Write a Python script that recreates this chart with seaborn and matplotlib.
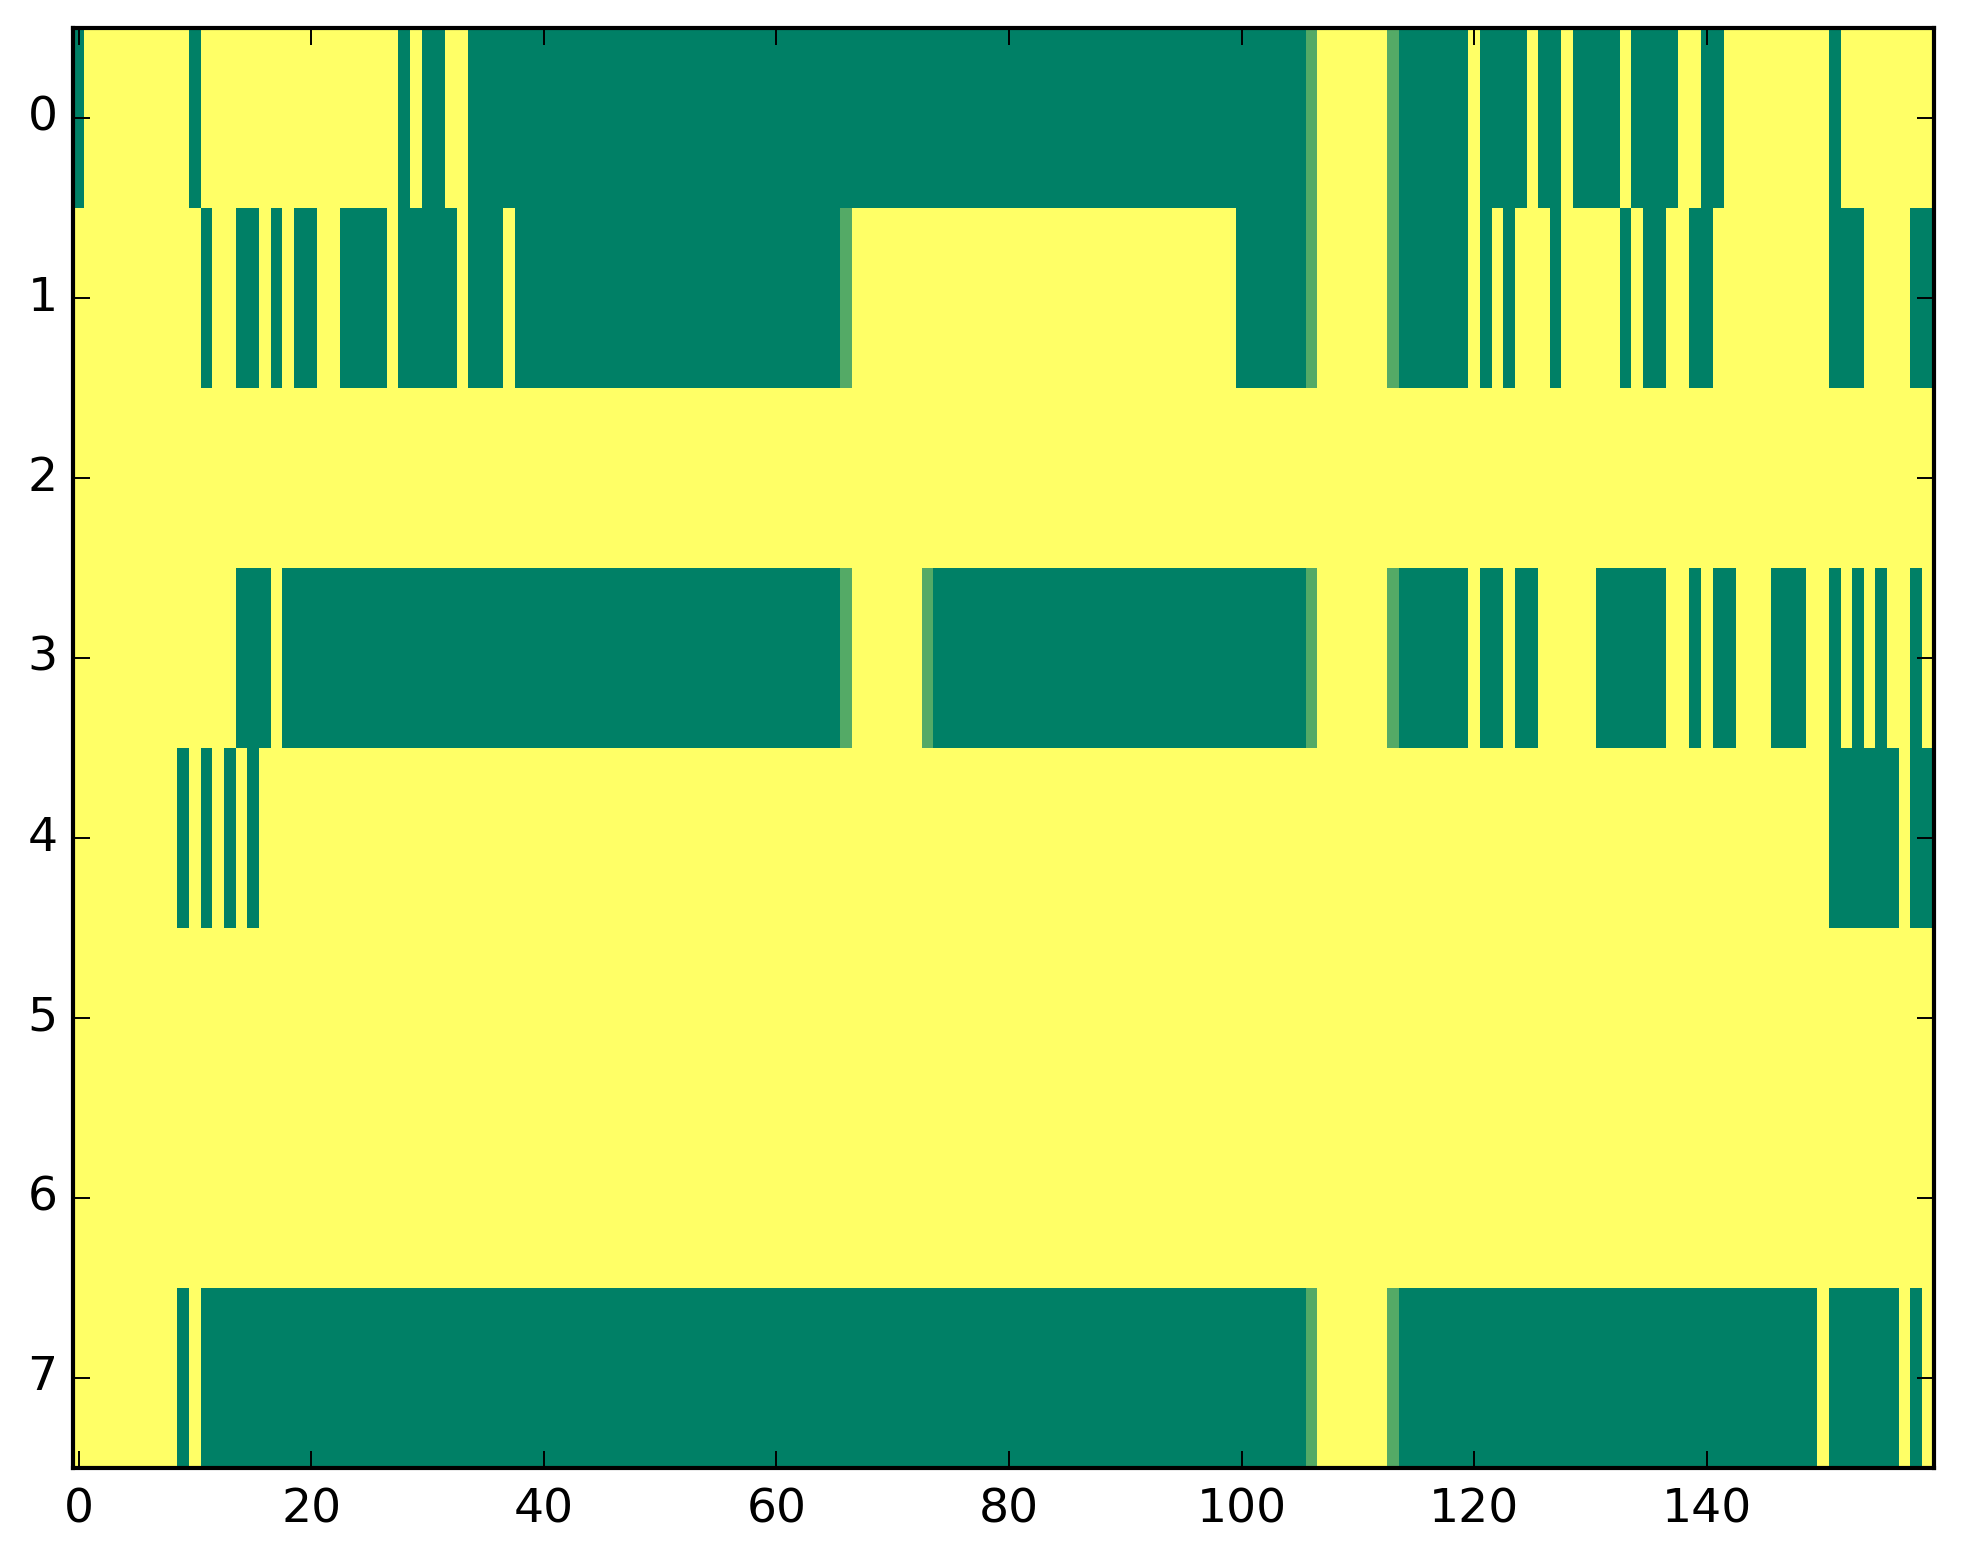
import numpy as np
import pandas as pd
import matplotlib
matplotlib.use("Agg")
import matplotlib.pyplot as plt
import seaborn as sns

n_cols = 160
row_labels = [0, 1, 2, 3, 4, 5, 6, 7]
x_tick_values = [0, 20, 40, 60, 80, 100, 120, 140]

# green (value 0) runs per row, inclusive column ranges; everything else is 1 (yellow)
green_row0 = [(0, 0), (10, 10), (28, 28), (30, 31), (34, 105), (114, 119), (121, 124),
              (126, 127), (129, 132), (134, 137), (140, 141), (151, 151)]
green_row1 = [(11, 11), (14, 15), (17, 17), (19, 20), (23, 26), (28, 32), (34, 36),
              (38, 65), (100, 105), (114, 119), (121, 121), (123, 123), (127, 127),
              (133, 133), (135, 136), (139, 140), (151, 153), (158, 159)]
green_row2 = []
green_row3 = [(14, 16), (18, 65), (74, 105), (114, 119), (121, 122), (124, 125),
              (131, 136), (139, 139), (141, 142), (146, 148), (151, 151), (153, 153),
              (155, 155), (158, 158)]
green_row4 = [(9, 9), (11, 11), (13, 13), (15, 15), (151, 156), (158, 159)]
green_row5 = []
green_row6 = []
green_row7 = [(9, 9), (11, 105), (114, 149), (151, 156), (158, 158)]

# lighter-green cells (intermediate value) as seen in the picture
mid_row0 = [106, 113]
mid_row1 = [66, 106, 113]
mid_row2 = []
mid_row3 = [66, 73, 106, 113]
mid_row4 = []
mid_row5 = []
mid_row6 = []
mid_row7 = [106, 113]
mid_value = 0.33

greens = [green_row0, green_row1, green_row2, green_row3,
          green_row4, green_row5, green_row6, green_row7]
mids = [mid_row0, mid_row1, mid_row2, mid_row3,
        mid_row4, mid_row5, mid_row6, mid_row7]

mat = np.ones((len(row_labels), n_cols))
for r, (runs, ms) in enumerate(zip(greens, mids)):
    for a, b in runs:
        mat[r, a:b + 1] = 0.0
    for c in ms:
        mat[r, c] = mid_value
df = pd.DataFrame(mat, index=row_labels, columns=range(n_cols))

sns.set_style("white")
plt.rcParams['font.family'] = ['DejaVu Sans']

fig = plt.figure(figsize=(9.815, 7.82), dpi=200)
ax = fig.add_axes([0.0371, 0.0614, 0.985 - 0.0371, 0.982 - 0.0614])
sns.heatmap(df, cmap="summer", vmin=0, vmax=1, cbar=False, ax=ax,
            xticklabels=False, yticklabels=False, linewidths=0, rasterized=True)

ax.set_axisbelow(False)
ax.set_xticks(np.array(x_tick_values) + 0.5)
ax.set_xticklabels([str(v) for v in x_tick_values], rotation=0)
ax.set_yticks(np.array(row_labels) + 0.5)
ax.set_yticklabels([str(v) for v in row_labels], rotation=0, va="center")
ax.set_xlabel("")
ax.set_ylabel("")

for s in ax.spines.values():
    s.set_visible(True)
    s.set_linewidth(1.5)
    s.set_color("black")
    s.set_zorder(3)

ax.tick_params(axis="both", which="major", direction="in", length=6, width=0.7,
               color="black", labelcolor="black", labelsize=17, top=True, right=True,
               bottom=True, left=True, labeltop=False, labelright=False)
ax.tick_params(axis="x", pad=7)
ax.tick_params(axis="y", pad=5.5)

fig.savefig("out.png", dpi=200)
